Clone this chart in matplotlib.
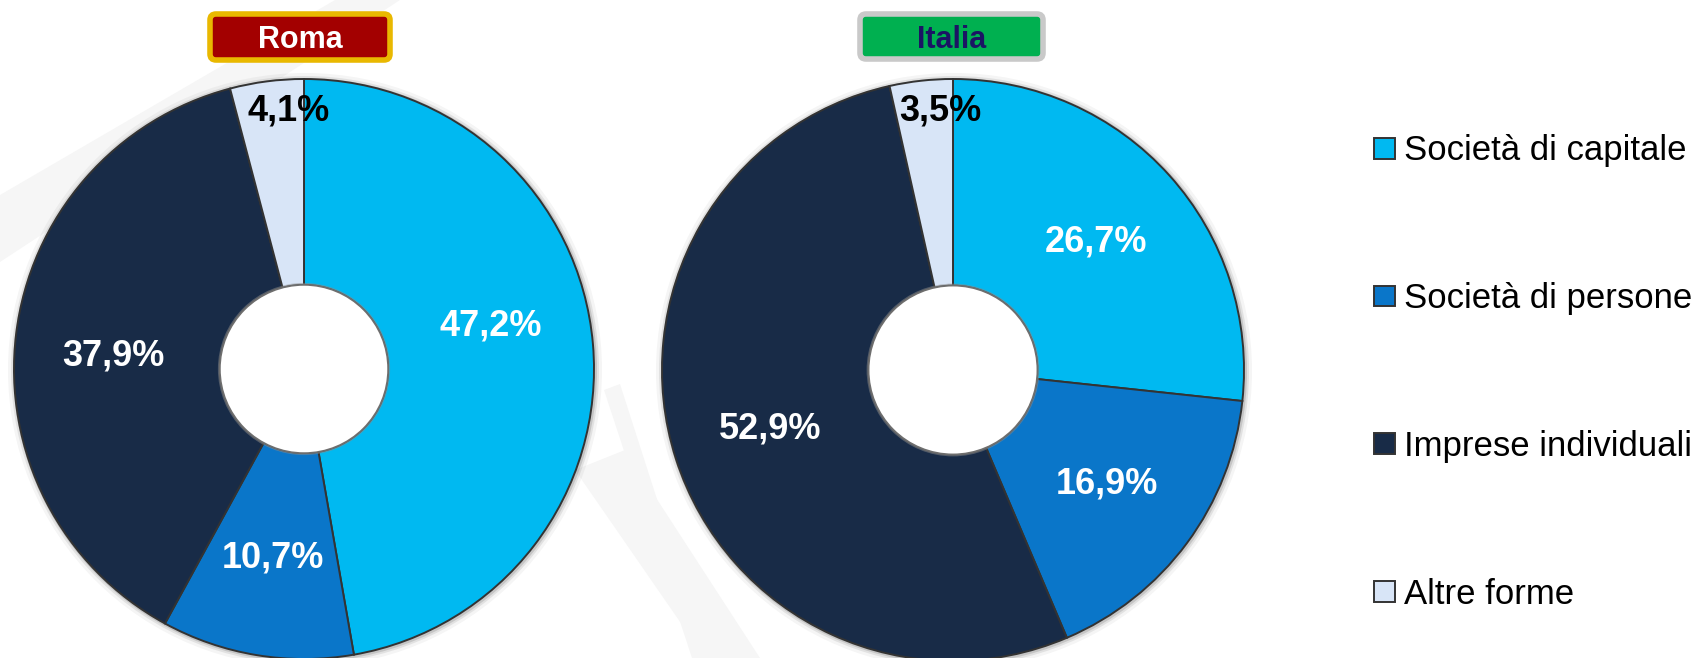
import numpy as np
import matplotlib.pyplot as plt
from matplotlib.patches import FancyBboxPatch, Polygon, Circle

W, H = 1693, 658

categorie = ["Società di capitale", "Società di persone", "Imprese individuali", "Altre forme"]
roma = [47.2, 10.7, 37.9, 4.1]
italia = [26.7, 16.9, 52.9, 3.5]
colori = ["#00B9F1", "#0A76C9", "#182B47", "#D8E5F7"]
colori_testo = ["white", "white", "white", "black"]

plt.rcParams['font.family'] = ['Liberation Sans', 'DejaVu Sans']

fig = plt.figure(figsize=(W / 100, H / 100), dpi=100)
ax = fig.add_axes([0, 0, 1, 1])


def py(y):
    # coordinate y dall'alto verso il basso
    return H - y


def fmt(v):
    return f"{v:.1f}".replace(".", ",") + "%"


# logo in filigrana sullo sfondo
filigrana = [
    [(0, 195), (0, 262), (400, 0), (335, 0)],
    [(575, 470), (625, 450), (760, 658), (705, 658)],
    [(604, 390), (620, 384), (708, 658), (692, 658)],
]
for pts in filigrana:
    ax.add_patch(Polygon([(x, py(y)) for x, y in pts], closed=True,
                         fc="#F6F6F6", ec="none", zorder=0))


def ciambella(valori, cx, cy, r, spost):
    # alone scuro attorno all'anello
    for k, a in [(7, 0.06), (4, 0.12), (2, 0.2)]:
        ax.add_patch(Circle((cx + 1, py(cy) - 1), r + k, fc="#555555", ec="none",
                            alpha=a, zorder=1))
    wedges, _ = ax.pie(valori, colors=colori, center=(cx, py(cy)), radius=r,
                       startangle=90, counterclock=False,
                       wedgeprops=dict(width=r * 0.71, edgecolor="#333333",
                                       linewidth=1.4, zorder=2))
    # foro centrale
    rh = r * 0.29
    ax.add_patch(Circle((cx, py(cy)), rh + 2, fc="#8A8A8A", ec="none", alpha=0.5, zorder=3))
    ax.add_patch(Circle((cx, py(cy)), rh, fc="white", ec="#6E6E6E", lw=1.2, zorder=3))
    for i, (w, v) in enumerate(zip(wedges, valori)):
        ang = np.deg2rad((w.theta1 + w.theta2) / 2 + spost.get(i, 0))
        rl = r * (0.89 if v < 5 else 0.66)
        ax.text(cx + rl * np.cos(ang), py(cy) + rl * np.sin(ang), fmt(v),
                ha="center", va="center", fontsize=26, fontweight="bold",
                color=colori_testo[i], zorder=5)
    return wedges


def titolo(testo, x0, y0, w, h, fc, ec, tc):
    ax.add_patch(FancyBboxPatch((x0, py(y0 + h)), w, h,
                                boxstyle="round,pad=0,rounding_size=6",
                                fc=fc, ec=ec, lw=4, zorder=3))
    ax.text(x0 + w / 2, py(y0 + h / 2 + 3), testo, ha="center", va="center",
            fontsize=22, fontweight="bold", color=tc, zorder=4)


wedges = ciambella(roma, 304, 369, 290, {0: 8, 2: 3, 3: -4})
ciambella(italia, 953, 370, 291, {3: -3.4})

titolo("Roma", 210, 14, 180, 46, "#A30000", "#E9B800", "white")
titolo("Italia", 860, 14, 183, 45, "#00B050", "#C9C9C9", "#1B1464")

ax.legend(wedges, categorie, loc="upper left", bbox_to_anchor=(1357 / W, 1 - 117 / H),
          frameon=False, fontsize=25, labelspacing=3.31,
          handlelength=0.6, handleheight=0.55, handletextpad=0.25, borderpad=0)

ax.set_xlim(0, W)
ax.set_ylim(0, H)
ax.axis("off")

fig.savefig("out.png", dpi=100, facecolor="white")
